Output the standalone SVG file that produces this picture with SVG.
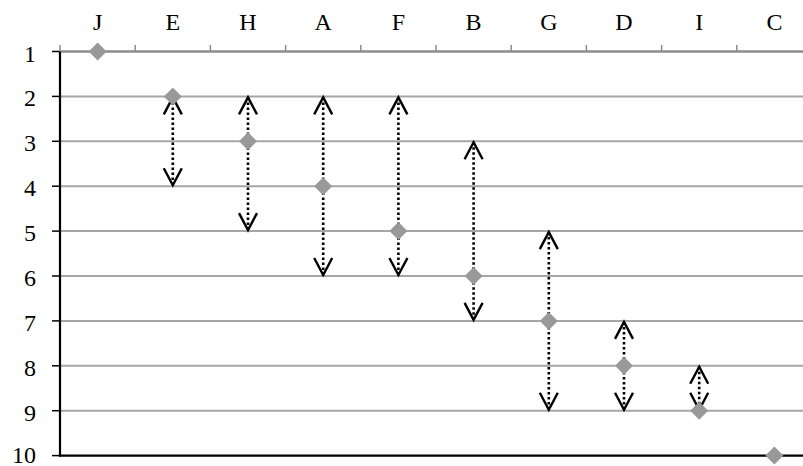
<svg xmlns="http://www.w3.org/2000/svg" width="803" height="466" viewBox="0 0 803 466">
<style>
.lbl{font-family:"Liberation Serif","Times New Roman",serif;font-size:24px;fill:#000}
.col{text-anchor:middle}
.row{text-anchor:end}
.grid{stroke:#a6a6a6;stroke-width:2;fill:none}
.top{stroke:#8c8c8c;stroke-width:2.5;fill:none}
.axis{stroke:#000;stroke-width:2.2;fill:none}
.tick{stroke:#000;stroke-width:1.5}
.ttick{stroke:#8c8c8c;stroke-width:1.5}
.bar{stroke:#000;stroke-width:2.6;stroke-dasharray:2.5,2.5;fill:none}
.chev{stroke:#000;stroke-width:2.4;fill:none;stroke-linejoin:miter}
.pt{fill:#999999}
</style>
<defs>
<path id="d" d="M0,-9 L9,0 L0,9 L-9,0 Z" class="pt"/>
</defs>
<g id="gridlines">
<line class="grid" x1="60" y1="96.4" x2="803" y2="96.4"/>
<line class="grid" x1="60" y1="141.3" x2="803" y2="141.3"/>
<line class="grid" x1="60" y1="186.2" x2="803" y2="186.2"/>
<line class="grid" x1="60" y1="231.1" x2="803" y2="231.1"/>
<line class="grid" x1="60" y1="276" x2="803" y2="276"/>
<line class="grid" x1="60" y1="320.9" x2="803" y2="320.9"/>
<line class="grid" x1="60" y1="365.8" x2="803" y2="365.8"/>
<line class="grid" x1="60" y1="410.7" x2="803" y2="410.7"/>
<line class="top" x1="60" y1="51.5" x2="803" y2="51.5"/>
</g>
<g id="axes">
<line class="axis" x1="60" y1="51.5" x2="60" y2="456.6"/>
<line class="axis" x1="59" y1="455.6" x2="803" y2="455.6"/>
<g class="tick">
<line x1="52" y1="51.5" x2="60" y2="51.5"/>
<line x1="52" y1="96.4" x2="60" y2="96.4"/>
<line x1="52" y1="141.3" x2="60" y2="141.3"/>
<line x1="52" y1="186.2" x2="60" y2="186.2"/>
<line x1="52" y1="231.1" x2="60" y2="231.1"/>
<line x1="52" y1="276" x2="60" y2="276"/>
<line x1="52" y1="320.9" x2="60" y2="320.9"/>
<line x1="52" y1="365.8" x2="60" y2="365.8"/>
<line x1="52" y1="410.7" x2="60" y2="410.7"/>
<line x1="52" y1="455.6" x2="60" y2="455.6"/>
</g>
<g class="ttick">
<line x1="60" y1="45" x2="60" y2="51.5"/>
<line x1="135.2" y1="45" x2="135.2" y2="51.5"/>
<line x1="210.4" y1="45" x2="210.4" y2="51.5"/>
<line x1="285.6" y1="45" x2="285.6" y2="51.5"/>
<line x1="360.8" y1="45" x2="360.8" y2="51.5"/>
<line x1="436" y1="45" x2="436" y2="51.5"/>
<line x1="511.2" y1="45" x2="511.2" y2="51.5"/>
<line x1="586.4" y1="45" x2="586.4" y2="51.5"/>
<line x1="661.6" y1="45" x2="661.6" y2="51.5"/>
<line x1="736.8" y1="45" x2="736.8" y2="51.5"/>
</g>
</g>
<g id="col-labels" class="lbl col">
<text x="97.6" y="30">J</text>
<text x="172.8" y="30">E</text>
<text x="248" y="30">H</text>
<text x="323.2" y="30">A</text>
<text x="398.4" y="30">F</text>
<text x="473.6" y="30">B</text>
<text x="548.8" y="30">G</text>
<text x="624" y="30">D</text>
<text x="699.2" y="30">I</text>
<text x="774.4" y="30">C</text>
</g>
<g id="row-labels" class="lbl row">
<text x="36" y="62">1</text>
<text x="36" y="106.4">2</text>
<text x="36" y="151.3">3</text>
<text x="36" y="196.2">4</text>
<text x="36" y="241.1">5</text>
<text x="36" y="286">6</text>
<text x="36" y="330.9">7</text>
<text x="36" y="375.8">8</text>
<text x="36" y="420.7">9</text>
<text x="36" y="463">10</text>
</g>
<g id="connectors">
<g id="bar-E"><line class="bar" x1="172.8" y1="97.4" x2="172.8" y2="185.2"/><path class="chev" d="M163.8,114.4 L172.8,97.4 L181.8,114.4 M163.8,168.2 L172.8,185.2 L181.8,168.2"/></g>
<g id="bar-H"><line class="bar" x1="248" y1="97.4" x2="248" y2="230.1"/><path class="chev" d="M239,114.4 L248,97.4 L257,114.4 M239,213.1 L248,230.1 L257,213.1"/></g>
<g id="bar-A"><line class="bar" x1="323.2" y1="97.4" x2="323.2" y2="275"/><path class="chev" d="M314.2,114.4 L323.2,97.4 L332.2,114.4 M314.2,258 L323.2,275 L332.2,258"/></g>
<g id="bar-F"><line class="bar" x1="398.4" y1="97.4" x2="398.4" y2="275"/><path class="chev" d="M389.4,114.4 L398.4,97.4 L407.4,114.4 M389.4,258 L398.4,275 L407.4,258"/></g>
<g id="bar-B"><line class="bar" x1="473.6" y1="142.3" x2="473.6" y2="319.9"/><path class="chev" d="M464.6,159.3 L473.6,142.3 L482.6,159.3 M464.6,302.9 L473.6,319.9 L482.6,302.9"/></g>
<g id="bar-G"><line class="bar" x1="548.8" y1="232.1" x2="548.8" y2="409.7"/><path class="chev" d="M539.8,249.1 L548.8,232.1 L557.8,249.1 M539.8,392.7 L548.8,409.7 L557.8,392.7"/></g>
<g id="bar-D"><line class="bar" x1="624" y1="321.9" x2="624" y2="409.7"/><path class="chev" d="M615,338.9 L624,321.9 L633,338.9 M615,392.7 L624,409.7 L633,392.7"/></g>
<g id="bar-I"><line class="bar" x1="699.2" y1="366.8" x2="699.2" y2="409.7"/><path class="chev" d="M690.2,383.8 L699.2,366.8 L708.2,383.8 M690.2,392.7 L699.2,409.7 L708.2,392.7"/></g>
</g>
<g id="node-J"><use href="#d" x="97.6" y="51.5"/></g>
<g id="node-E"><use href="#d" x="172.8" y="96.4"/></g>
<g id="node-H"><use href="#d" x="248" y="141.3"/></g>
<g id="node-A"><use href="#d" x="323.2" y="186.2"/></g>
<g id="node-F"><use href="#d" x="398.4" y="231.1"/></g>
<g id="node-B"><use href="#d" x="473.6" y="276"/></g>
<g id="node-G"><use href="#d" x="548.8" y="320.9"/></g>
<g id="node-D"><use href="#d" x="624" y="365.8"/></g>
<g id="node-I"><use href="#d" x="699.2" y="410.7"/></g>
<g id="node-C"><use href="#d" x="774.4" y="455.6"/></g>
</svg>
